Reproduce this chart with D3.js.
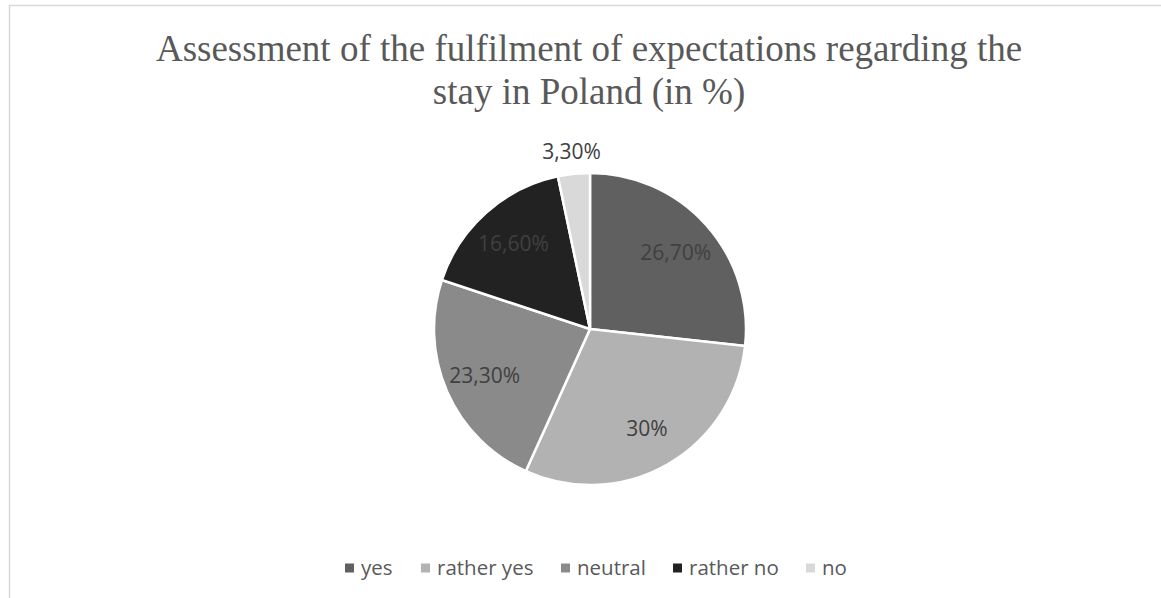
<!DOCTYPE html>
<html>
<head>
<meta charset="utf-8">
<script src="https://cdn.jsdelivr.net/npm/d3@7.9.0/dist/d3.min.js"></script>
<style>
  body { margin: 0; background: #fff; }
  svg { display: block; }
</style>
</head>
<body>
<svg width="1161" height="598"></svg>
<script>
const categories = ['yes', 'rather yes', 'neutral', 'rather no', 'no'];
const values = [26.7, 30, 23.3, 16.6, 3.3];
const labels = ['26,70%', '30%', '23,30%', '16,60%', '3,30%'];
const colors = ['#606060', '#b2b2b2', '#8a8a8a', '#222222', '#d9d9d9'];
const titleLines = [
  'Assessment of the fulfilment of expectations regarding the',
  'stay in Poland (in %)',
];

const width = 1161;
const height = 598;
const cx = 590;
const cy = 329;
const radius = 156;

const svg = d3.select('svg');

// chart area border (only top and left visible in the crop)
svg.append('rect')
  .attr('x', 9.5).attr('y', 5.5)
  .attr('width', width + 20).attr('height', height + 20)
  .attr('fill', 'none')
  .attr('stroke', '#d9d9d9')
  .attr('stroke-width', 1.5);

// title
svg.append('g')
  .selectAll('text')
  .data(titleLines)
  .join('text')
  .attr('x', 589)
  .attr('y', (d, i) => 61 + i * 43)
  .attr('text-anchor', 'middle')
  .attr('font-family', '"Liberation Serif", "Times New Roman", serif')
  .attr('font-size', 37)
  .attr('fill', '#595959')
  .text((d) => d);

const data = categories.map((c, i) => ({ label: c, value: values[i], text: labels[i], color: colors[i] }));

const pie = d3.pie().sort(null).value((d) => d.value);
const arcs = pie(data);
const arcGenerator = d3.arc().innerRadius(0).outerRadius(radius);
const labelArc = d3.arc().innerRadius(115).outerRadius(115);
const outerLabelArc = d3.arc().innerRadius(radius + 22).outerRadius(radius + 22);

const g = svg.append('g').attr('transform', `translate(${cx},${cy})`);

g.selectAll('path')
  .data(arcs)
  .join('path')
  .attr('d', arcGenerator)
  .attr('fill', (d) => d.data.color)
  .attr('stroke', '#fff')
  .attr('stroke-width', 2.5)
  .attr('stroke-linejoin', 'round');

g.selectAll('text')
  .data(arcs)
  .join('text')
  .attr('transform', (d) => {
    let small = d.data.value < 5;
    let [x, y] = small ? outerLabelArc.centroid(d) : labelArc.centroid(d);
    return `translate(${x},${y})`;
  })
  .attr('text-anchor', 'middle')
  .attr('dy', '0.35em')
  .attr('font-family', '"Open Sans", sans-serif')
  .attr('font-size', 21)
  .attr('fill', '#404040')
  .text((d) => d.data.text);

// legend
const legendX = [345, 421, 561, 673, 806];
const legend = svg.append('g').attr('transform', 'translate(0,568)');
const items = legend.selectAll('g')
  .data(data)
  .join('g')
  .attr('transform', (d, i) => `translate(${legendX[i]},0)`);

items.append('rect')
  .attr('x', 0).attr('y', -4.5)
  .attr('width', 9).attr('height', 9)
  .attr('fill', (d) => d.color);

items.append('text')
  .attr('x', 16)
  .attr('dy', '0.35em')
  .attr('font-family', '"Open Sans", sans-serif')
  .attr('font-size', 20.5)
  .attr('fill', '#595959')
  .text((d) => d.label);
</script>
</body>
</html>
